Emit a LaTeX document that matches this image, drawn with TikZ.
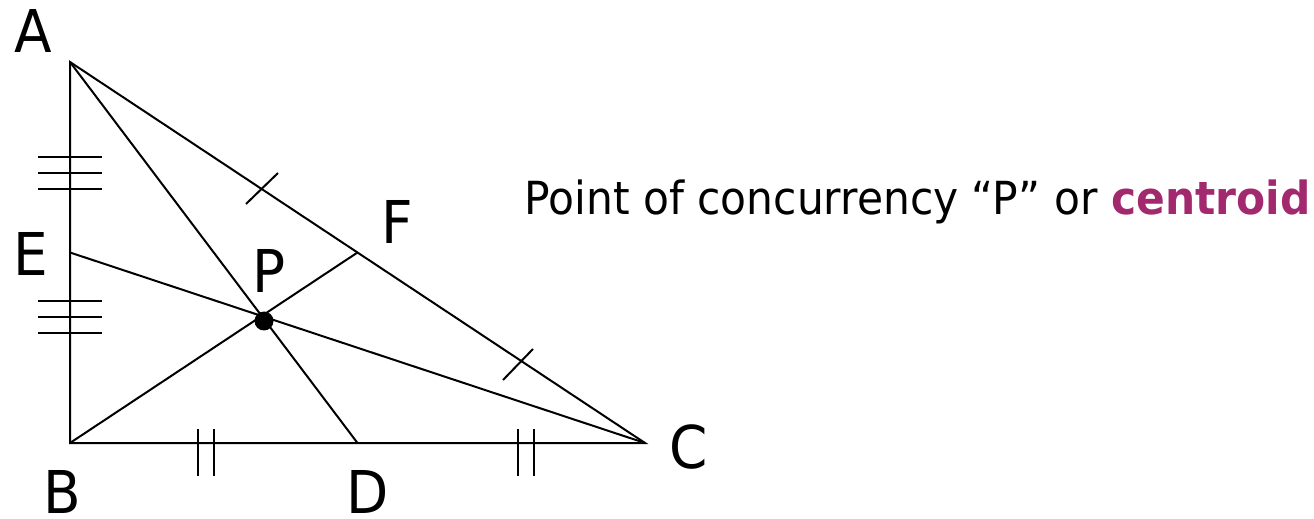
\documentclass[tikz,border=0pt]{standalone}
\usepackage{fontspec}
\setmainfont{DejaVu Sans}[FakeStretch=0.93]
\usepackage{xcolor}
\usetikzlibrary{positioning, calc}
\definecolor{centroidpurple}{RGB}{163,41,111}

\begin{document}
\begin{tikzpicture}[x=0.5pt, y=-0.5pt,
    seg/.style={line width=1pt},
    tickmark/.style={line width=1pt},
    vlabel/.style={inner sep=0pt, font=\fontsize{29.5}{32}\selectfont}]
    \useasboundingbox (0,0) rectangle (1314,519);
    \coordinate (A) at (70,62);
    \coordinate (B) at (70,443);
    \coordinate (C) at (645,443);
    \coordinate (D) at ($(B)!0.5!(C)$);
    \coordinate (E) at ($(A)!0.5!(B)$);
    \coordinate (F) at ($(A)!0.5!(C)$);
    \draw[seg] (A) -- (B) -- (C) -- cycle;
    \draw[seg] (A) -- (D);
    \draw[seg] (B) -- (F);
    \draw[seg] (C) -- (E);
    \fill (264,321) circle (4.75pt);
    \foreach \y in {157,173,189,301,317,333}{
      \draw[tickmark] (38,\y) -- (102,\y);
    }
    \foreach \x in {198,214,518,534}{
      \draw[tickmark] (\x,429) -- (\x,476);
    }
    \draw[tickmark] (246,204) -- (278,173);
    \draw[tickmark] (503,380) -- (533,349);
    \node[vlabel] (lblA) at (33.5,31) {A};
    \node[vlabel] (lblB) at (62,492) {B};
    \node[vlabel] (lblC) at (689,447) {C};
    \node[vlabel] (lblD) at (368,492) {D};
    \node[vlabel] (lblE) at (30.5,254) {E};
    \node[vlabel] (lblF) at (397,222) {F};
    \node[vlabel] (lblP) at (269,271) {P};
    \node[anchor=base west, inner sep=0pt, font=\fontsize{22.8}{26}\selectfont] (caption) at (524,214)
      {Point of concurrency “P” or \textbf{\color{centroidpurple}centroid}};
  \end{tikzpicture}
\end{document}
